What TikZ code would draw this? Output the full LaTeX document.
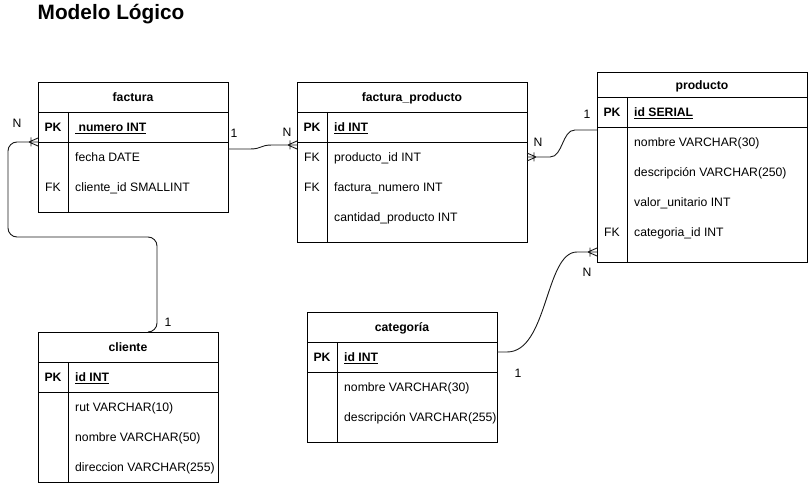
\documentclass[tikz,border=0pt]{standalone}
\usepackage{fontspec}
\setmainfont{Liberation Sans}
\usetikzlibrary{calc}
\begin{document}
\begin{tikzpicture}[x=1pt,y=-1pt,
  tbl/.style={draw, line width=0.9pt, anchor=north west, inner sep=0pt, outer sep=0pt},
  ln/.style={line width=0.9pt},
  txt/.style={inner sep=0pt, text height=8.7pt, text depth=0pt, font=\fontsize{12.2}{14}\selectfont},
  hdr/.style={txt, font=\bfseries\fontsize{12.2}{14}\selectfont},
  fld/.style={txt, anchor=west},
  bfld/.style={fld, font=\bfseries\fontsize{12.2}{14}\selectfont},
  pk/.style={hdr},
  fk/.style={txt},
  card/.style={txt},
  conn/.style={line width=0.9pt, draw=black!90},
  crowsfoot/.pic={\draw[conn] (-9,0) -- (0,-4) (-9,0) -- (0,4) (-7,-4.5) -- (-7,4.5);}
]
\useasboundingbox (0,0) rectangle (809,484);

\node[anchor=base west, inner sep=0pt, font=\bfseries\fontsize{20.8}{24}\selectfont] (title) at (37.5,19.5) {Modelo Lógico};

% factura
\node[tbl, minimum width=190pt, minimum height=130pt] (factura) at (38,82) {};
\draw[ln] (38,112) -- (228,112) (38,142) -- (228,142) (68,112) -- (68,212);
\node[hdr] (factura-h) at (133,97) {factura};
\node[pk] (factura-k1) at (53,127) {PK};
\node[bfld] (factura-f1) at (75,127) {\underline{\ numero INT}};
\node[fld] (factura-f2) at (75,157) {fecha DATE};
\node[fk] (factura-k3) at (53,187) {FK};
\node[fld] (factura-f3) at (75,187) {cliente\_id SMALLINT};

% factura_producto
\node[tbl, minimum width=230pt, minimum height=160pt] (fp) at (297,82) {};
\draw[ln] (297,112) -- (527,112) (297,142) -- (527,142) (327,112) -- (327,242);
\node[hdr] (fp-h) at (412,97) {factura\_producto};
\node[pk] (fp-k1) at (312,127) {PK};
\node[bfld] (fp-f1) at (334,127) {\underline{id INT}};
\node[fk] (fp-k2) at (312,157) {FK};
\node[fld] (fp-f2) at (334,157) {producto\_id INT};
\node[fk] (fp-k3) at (312,187) {FK};
\node[fld] (fp-f3) at (334,187) {factura\_numero INT};
\node[fld] (fp-f4) at (334,217) {cantidad\_producto INT};

% producto
\node[tbl, minimum width=210pt, minimum height=190pt] (producto) at (597,72) {};
\draw[ln] (597,97) -- (807,97) (597,127) -- (807,127) (627,97) -- (627,262);
\node[hdr] (producto-h) at (702,85) {producto};
\node[pk] (producto-k1) at (612,112) {PK};
\node[bfld] (producto-f1) at (634,112) {\underline{id SERIAL}};
\node[fld] (producto-f2) at (634,142) {nombre VARCHAR(30)};
\node[fld] (producto-f3) at (634,172) {descripción VARCHAR(250)};
\node[fld] (producto-f4) at (634,202) {valor\_unitario INT};
\node[fk] (producto-k5) at (612,232) {FK};
\node[fld] (producto-f5) at (634,232) {categoria\_id INT};

% cliente
\node[tbl, minimum width=180pt, minimum height=150pt] (cliente) at (38,332) {};
\draw[ln] (38,362) -- (218,362) (38,392) -- (218,392) (68,362) -- (68,482);
\node[hdr] (cliente-h) at (128,347) {cliente};
\node[pk] (cliente-k1) at (53,377) {PK};
\node[bfld] (cliente-f1) at (75,377) {\underline{id INT}};
\node[fld] (cliente-f2) at (75,407) {rut VARCHAR(10)};
\node[fld] (cliente-f3) at (75,437) {nombre VARCHAR(50)};
\node[fld] (cliente-f4) at (75,467) {direccion VARCHAR(255)};

% categoria
\node[tbl, minimum width=190pt, minimum height=130pt] (categoria) at (307,312) {};
\draw[ln] (307,342) -- (497,342) (307,372) -- (497,372) (337,342) -- (337,442);
\node[hdr] (categoria-h) at (402,327) {categoría};
\node[pk] (categoria-k1) at (322,357) {PK};
\node[bfld] (categoria-f1) at (344,357) {\underline{id INT}};
\node[fld] (categoria-f2) at (344,387) {nombre VARCHAR(30)};
\node[fld] (categoria-f3) at (344,417) {descripción VARCHAR(255)};

% connector attachment points
\coordinate (c1a) at ($(factura.north east)+(0,67)$);
\coordinate (c1b) at ($(fp.north west)+(0,63)$);
\coordinate (c2a) at ($(fp.north east)+(0,75)$);
\coordinate (c2b) at ($(producto.north west)+(0,58)$);
\coordinate (c3a) at ($(categoria.north east)+(0,40)$);
\coordinate (c3b) at ($(producto.north west)+(0,180)$);
\coordinate (c4a) at ($(factura.north west)+(0,60)$);
\coordinate (c4b) at ($(cliente.north west)+(110,0)$);

% factura -- factura_producto
\draw[conn] (c1a) -- ($(c1a)+(22,0)$) .. controls ($(c1a)+(34,0)$) and ($(c1b)+(-37,0)$) .. ($(c1b)+(-25,0)$) -- (c1b);
\pic at (c1b) {crowsfoot};
\node[card] (l1a) at (234,133) {1};
\node[card] (l1b) at (287,132) {N};

% factura_producto -- producto
\draw[conn] (c2a) -- ($(c2a)+(23,0)$) .. controls ($(c2a)+(36,0)$) and ($(c2b)+(-35,0)$) .. ($(c2b)+(-22,0)$) -- (c2b);
\pic[rotate=180] at (c2a) {crowsfoot};
\node[card] (l2a) at (538,142) {N};
\node[card] (l2b) at (587,114) {1};

% categoria -- producto
\draw[conn] (c3a) -- ($(c3a)+(10,0)$) .. controls ($(c3a)+(51,0)$) and ($(c3b)+(-52,0)$) .. ($(c3b)+(-20,0)$) -- (c3b);
\pic at (c3b) {crowsfoot};
\node[card] (l3a) at (518,373) {1};
\node[card] (l3b) at (587,272) {N};

% factura -- cliente
\draw[conn, rounded corners=9pt] (c4a) -- (8,142) -- (8,237) -- (157,237) -- (157,332) -- (c4b);
\pic at (c4a) {crowsfoot};
\node[card] (l4a) at (17,123) {N};
\node[card] (l4b) at (168,322) {1};
\end{tikzpicture}
\end{document}
